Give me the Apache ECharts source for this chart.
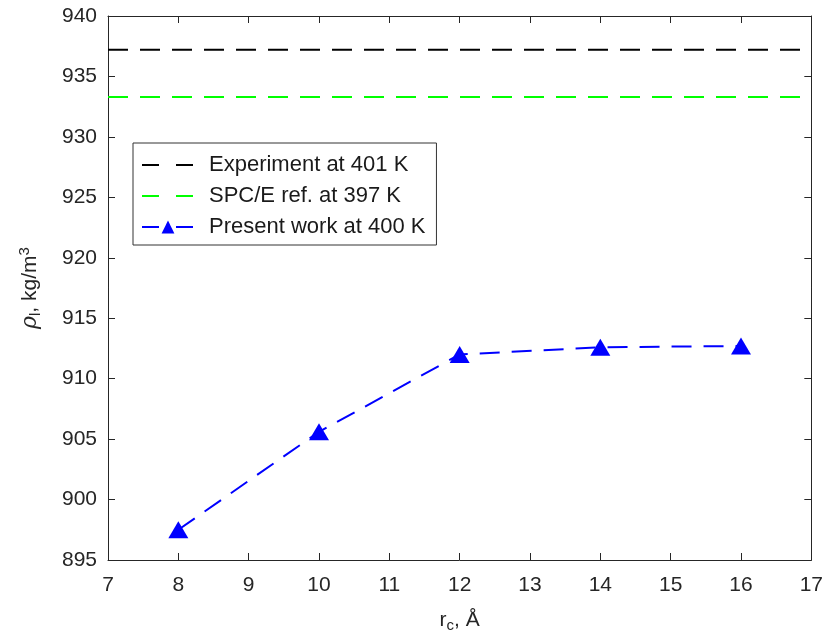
<!DOCTYPE html>
<html>
<head>
<meta charset="utf-8">
<script src="https://cdn.jsdelivr.net/npm/echarts@6/dist/echarts.min.js"></script>
<style>html,body{margin:0;padding:0;background:#fff;}#c{width:826px;height:642px;}</style>
</head>
<body>
<div id="c"></div>
<script>
const xTicks = [7, 8, 9, 10, 11, 12, 13, 14, 15, 16, 17];
const yTicks = [895, 900, 905, 910, 915, 920, 925, 930, 935, 940];
const rc = [8, 10, 12, 14, 16];
const presentWork = [897.5, 905.6, 912.0, 912.6, 912.7];
const experimentValue = 937.2;
const spceValue = 933.3;
const seriesNames = ['Experiment at 401 K', 'SPC/E ref. at 397 K', 'Present work at 400 K'];

const axisColor = '#262626';
const font = 'Liberation Sans, Arial, Helvetica, sans-serif';
const xMin = xTicks[0], xMax = xTicks[xTicks.length - 1];
const yMin = yTicks[0], yMax = yTicks[yTicks.length - 1];

const chart = echarts.init(document.getElementById('c'), null, {renderer: 'canvas'});

function xAxisDef(pos, show) {
  return {
    type: 'value', position: pos, min: xMin, max: xMax, interval: 1,
    axisLine: {show: true, lineStyle: {color: axisColor, width: 1}},
    axisTick: {show: true, inside: true, length: 7, lineStyle: {color: axisColor}},
    axisLabel: {show: show, color: axisColor, fontSize: 21, fontFamily: font, margin: 15},
    splitLine: {show: false}
  };
}
function yAxisDef(pos, show) {
  return {
    type: 'value', position: pos, min: yMin, max: yMax, interval: 5,
    axisLine: {show: true, lineStyle: {color: axisColor, width: 1}},
    axisTick: {show: true, inside: true, length: 7, lineStyle: {color: axisColor}},
    axisLabel: {show: show, color: axisColor, fontSize: 21, fontFamily: font, margin: 11},
    splitLine: {show: false}
  };
}

const xBottom = xAxisDef('bottom', true);
xBottom.name = '{a|r}{s|c}{a|, Å}';
xBottom.nameLocation = 'middle';
xBottom.nameGap = 48;
xBottom.nameTextStyle = {
  rich: {
    a: {fontSize: 21, fontFamily: font, color: axisColor},
    s: {fontSize: 15, fontFamily: font, color: axisColor, padding: [10, 0, 0, 0]}
  }
};

const yLeft = yAxisDef('left', true);
yLeft.name = '{g|ρ}{s|l}{a|, kg/m}{p|3}';
yLeft.nameLocation = 'middle';
yLeft.nameGap = 64;
yLeft.nameRotate = 90;
yLeft.nameTextStyle = {
  rich: {
    g: {fontSize: 22, fontFamily: 'DejaVu Serif, serif', fontStyle: 'italic', color: axisColor},
    a: {fontSize: 21, fontFamily: font, color: axisColor},
    s: {fontSize: 15, fontFamily: font, color: axisColor, padding: [10, 0, 0, 0]},
    p: {fontSize: 15, fontFamily: font, color: axisColor, padding: [0, 0, 12, 0]}
  }
};

const dash = [20, 12];
const legendDash = [17, 17];

const option = {
  backgroundColor: '#fff',
  animation: false,
  grid: {left: 108, top: 16, right: 12, bottom: 82, containLabel: false},
  xAxis: [xBottom, xAxisDef('top', false)],
  yAxis: [yLeft, yAxisDef('right', false)],
  legend: {
    orient: 'vertical',
    left: 133, top: 143,
    padding: [10, 11, 6, 8],
    itemWidth: 52, itemHeight: 16, itemGap: 7,
    borderColor: '#333', borderWidth: 1, backgroundColor: '#fff',
    textStyle: {fontSize: 22, fontFamily: font, color: '#1a1a1a', lineHeight: 24, padding: [0, 0, 0, 10]},
    data: [
      {name: seriesNames[0], itemStyle: {opacity: 0}, lineStyle: {type: legendDash, width: 2}},
      {name: seriesNames[1], itemStyle: {opacity: 0}, lineStyle: {type: legendDash, width: 2}},
      {name: seriesNames[2], lineStyle: {type: legendDash, width: 2}}
    ]
  },
  series: [
    {
      name: seriesNames[0], type: 'line', xAxisIndex: 0, yAxisIndex: 0,
      data: [[xMin, experimentValue], [xMax, experimentValue]],
      symbol: 'none',
      lineStyle: {color: '#000', width: 2, type: dash},
      itemStyle: {color: '#000'}
    },
    {
      name: seriesNames[1], type: 'line', xAxisIndex: 0, yAxisIndex: 0,
      data: [[xMin, spceValue], [xMax, spceValue]],
      symbol: 'none',
      lineStyle: {color: '#00ff00', width: 2, type: dash},
      itemStyle: {color: '#00ff00'}
    },
    {
      name: seriesNames[2], type: 'line', xAxisIndex: 0, yAxisIndex: 0,
      data: rc.map((x, i) => [x, presentWork[i]]),
      symbol: 'triangle', symbolSize: [20, 17],
      lineStyle: {color: '#0000ff', width: 2, type: dash},
      itemStyle: {color: '#0000ff'}
    }
  ]
};
chart.setOption(option);
</script>
</body>
</html>
